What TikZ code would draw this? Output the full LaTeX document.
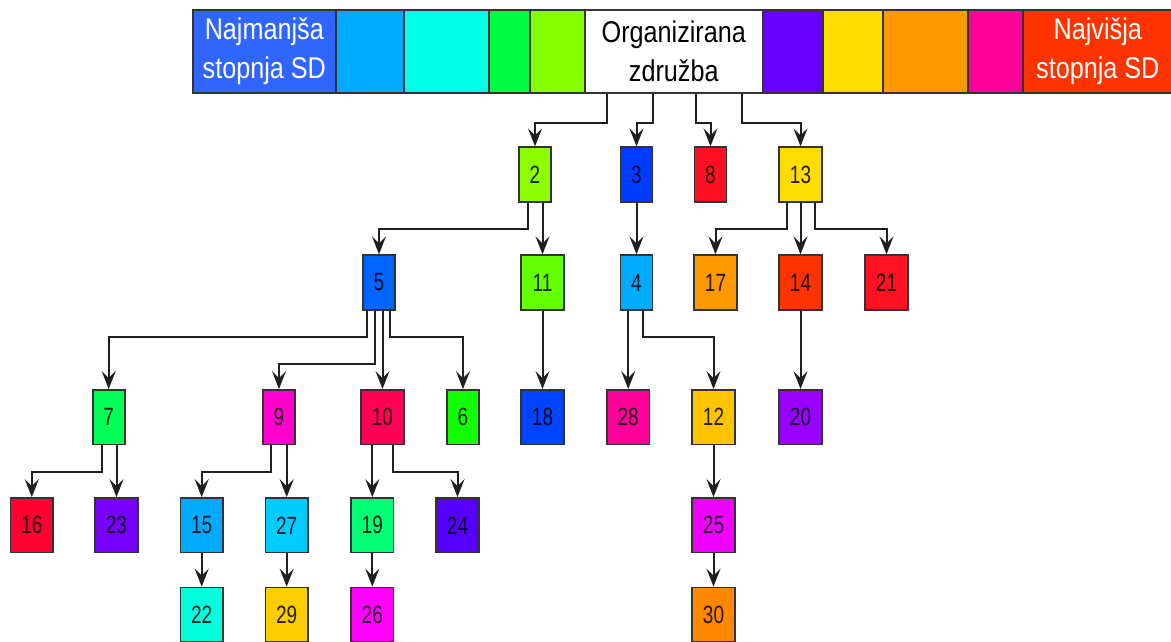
\documentclass[tikz,border=0pt]{standalone}
\usepackage{fontspec}
\setmainfont{Liberation Sans}
\newfontfamily\barfont[FakeStretch=0.84]{Liberation Sans}
\newfontfamily\numfont[FakeStretch=0.76]{Liberation Sans}
\usetikzlibrary{arrows.meta}

% scale colours
\definecolor{sLow}{RGB}{48,102,255}
\definecolor{sB}{RGB}{0,170,255}
\definecolor{sC}{RGB}{0,255,230}
\definecolor{sG}{RGB}{0,255,68}
\definecolor{sL}{RGB}{136,255,0}
\definecolor{sP}{RGB}{102,0,255}
\definecolor{sY}{RGB}{255,221,0}
\definecolor{sO}{RGB}{255,153,0}
\definecolor{sM}{RGB}{255,0,153}
\definecolor{sHigh}{RGB}{255,51,0}
% member colours
\definecolor{k2}{RGB}{140,255,0}
\definecolor{k3}{RGB}{0,60,255}
\definecolor{k8}{RGB}{255,16,32}
\definecolor{k13}{RGB}{255,221,0}
\definecolor{k5}{RGB}{0,102,255}
\definecolor{k11}{RGB}{100,255,0}
\definecolor{k4}{RGB}{0,170,255}
\definecolor{k17}{RGB}{255,153,0}
\definecolor{k14}{RGB}{255,51,0}
\definecolor{k21}{RGB}{255,17,34}
\definecolor{k7}{RGB}{0,255,85}
\definecolor{k9}{RGB}{255,0,204}
\definecolor{k10}{RGB}{255,0,85}
\definecolor{k6}{RGB}{17,255,0}
\definecolor{k18}{RGB}{0,68,255}
\definecolor{k28}{RGB}{255,0,153}
\definecolor{k12}{RGB}{255,196,0}
\definecolor{k20}{RGB}{153,0,255}
\definecolor{k16}{RGB}{255,0,51}
\definecolor{k23}{RGB}{119,0,255}
\definecolor{k15}{RGB}{0,170,255}
\definecolor{k27}{RGB}{0,204,255}
\definecolor{k19}{RGB}{0,255,119}
\definecolor{k24}{RGB}{85,0,255}
\definecolor{k25}{RGB}{238,0,255}
\definecolor{k22}{RGB}{0,255,221}
\definecolor{k29}{RGB}{255,204,0}
\definecolor{k26}{RGB}{255,0,255}
\definecolor{k30}{RGB}{255,136,0}

\tikzset{
  cell/.style={draw=black!80, line width=1.6pt, minimum height=83pt,
    inner sep=0pt, anchor=north west, align=center},
  celltext/.style={font=\barfont\fontsize{30}{39}\selectfont},
  box/.style={draw=black!80, line width=1.8pt, minimum height=54.5pt,
    inner sep=0pt, text opacity=0.85,
    font=\numfont\fontsize{25}{25}\selectfont},
  one/.style={box, minimum width=32pt},
  two/.style={box, minimum width=42.5pt},
  arr/.style={-{Stealth[length=18pt,width=14pt,inset=7pt]},
    line width=2pt, draw=black!88},
}

\begin{document}
\begin{tikzpicture}[x=1pt,y=-1pt]
\useasboundingbox[fill=white] (0,0) rectangle (1171,641);

% colour scale with the organisation in the middle
\node[cell, celltext, minimum width=143pt, fill=sLow, text=white]
  (c1) at (192,9) {Najmanjša\\stopnja SD};
\node[cell, minimum width=68pt, fill=sB] (c2) at (335,9) {};
\node[cell, minimum width=85pt, fill=sC] (c3) at (403,9) {};
\node[cell, minimum width=41pt, fill=sG] (c4) at (488,9) {};
\node[cell, minimum width=55pt, fill=sL] (c5) at (529,9) {};
\node[cell, celltext, minimum width=178pt, fill=white] (org) at (584,9) {Organizirana\\združba};
\node[cell, minimum width=60pt, fill=sP] (c7) at (762,9) {};
\node[cell, minimum width=60pt, fill=sY] (c8) at (822,9) {};
\node[cell, minimum width=85pt, fill=sO] (c9) at (882,9) {};
\node[cell, minimum width=55pt, fill=sM] (c10) at (967,9) {};
\node[cell, celltext, minimum width=150pt, fill=sHigh, text=white]
  (c11) at (1022,9) {Najvišja\\stopnja SD};

% first level
\node[one, fill=k2] (n2) at (535,174.5) {2};
\node[one, fill=k3] (n3) at (636.5,174.5) {3};
\node[one, fill=k8] (n8) at (710.5,174.5) {8};
\node[two, fill=k13] (n13) at (800.5,174.5) {13};

% second level
\node[one, fill=k5] (n5) at (379,282.5) {5};
\node[two, fill=k11] (n11) at (542.5,282.5) {11};
\node[one, fill=k4] (n4) at (636.5,282.5) {4};
\node[two, fill=k17] (n17) at (715.5,282.5) {17};
\node[two, fill=k14] (n14) at (800.5,282.5) {14};
\node[two, fill=k21] (n21) at (886.5,282.5) {21};

% third level
\node[one, fill=k7] (n7) at (108.7,417.2) {7};
\node[one, fill=k9] (n9) at (279,417.2) {9};
\node[two, fill=k10] (n10) at (382.5,417.2) {10};
\node[one, fill=k6] (n6) at (463,417.2) {6};
\node[two, fill=k18] (n18) at (542.5,417.2) {18};
\node[two, fill=k28] (n28) at (628.2,417.2) {28};
\node[two, fill=k12] (n12) at (713.5,417.2) {12};
\node[two, fill=k20] (n20) at (800.5,417.2) {20};

% fourth level
\node[two, fill=k16] (n16) at (31.8,525.3) {16};
\node[two, fill=k23] (n23) at (116.5,525.3) {23};
\node[two, fill=k15] (n15) at (201.7,525.3) {15};
\node[two, fill=k27] (n27) at (286.7,525.3) {27};
\node[two, fill=k19] (n19) at (372.3,525.3) {19};
\node[two, fill=k24] (n24) at (457.5,525.3) {24};
\node[two, fill=k25] (n25) at (713.5,525.3) {25};

% fifth level
\node[two, fill=k22] (n22) at (201.7,614.8) {22};
\node[two, fill=k29] (n29) at (286.7,614.8) {29};
\node[two, fill=k26] (n26) at (372.3,614.8) {26};
\node[two, fill=k30] (n30) at (713.5,614.8) {30};

% connectors
\draw[arr] ([xshift=-67pt]org.south) -- ++(0,29) -| (n2.north);
\draw[arr] ([xshift=-21pt]org.south) -- ++(0,29) -| (n3.north);
\draw[arr] ([xshift=22pt]org.south) -- ++(0,29) -| (n8.north);
\draw[arr] ([xshift=68pt]org.south) -- ++(0,29) -| (n13.north);

\draw[arr] ([xshift=-7.3pt]n2.south) -- ++(0,26) -| (n5.north);
\draw[arr] (n2.south -| n11.north) -- (n11.north);
\draw[arr] (n3.south) -- (n4.north);
\draw[arr] ([xshift=-14pt]n13.south) -- ++(0,26) -| (n17.north);
\draw[arr] (n13.south) -- (n14.north);
\draw[arr] ([xshift=14pt]n13.south) -- ++(0,26) -| (n21.north);

\draw[arr] ([xshift=-11.7pt]n5.south) -- ++(0,26.3) -| (n7.north);
\draw[arr] ([xshift=-4.3pt]n5.south) -- ++(0,53) -| (n9.north);
\draw[arr] (n5.south -| n10.north) -- (n10.north);
\draw[arr] ([xshift=11pt]n5.south) -- ++(0,26.3) -| (n6.north);
\draw[arr] (n11.south) -- (n18.north);
\draw[arr] (n4.south -| n28.north) -- (n28.north);
\draw[arr] ([xshift=6.2pt]n4.south) -- ++(0,26.3) -| (n12.north);
\draw[arr] (n14.south) -- (n20.north);

\draw[arr] ([xshift=-7pt]n7.south) -- ++(0,26.7) -| (n16.north);
\draw[arr] (n7.south -| n23.north) -- (n23.north);
\draw[arr] ([xshift=-8pt]n9.south) -- ++(0,26.7) -| (n15.north);
\draw[arr] (n9.south -| n27.north) -- (n27.north);
\draw[arr] (n10.south -| n19.north) -- (n19.north);
\draw[arr] ([xshift=10.8pt]n10.south) -- ++(0,26.7) -| (n24.north);
\draw[arr] (n12.south) -- (n25.north);

\draw[arr] (n15.south) -- (n22.north);
\draw[arr] (n27.south) -- (n29.north);
\draw[arr] (n19.south) -- (n26.north);
\draw[arr] (n25.south) -- (n30.north);
\end{tikzpicture}
\end{document}
